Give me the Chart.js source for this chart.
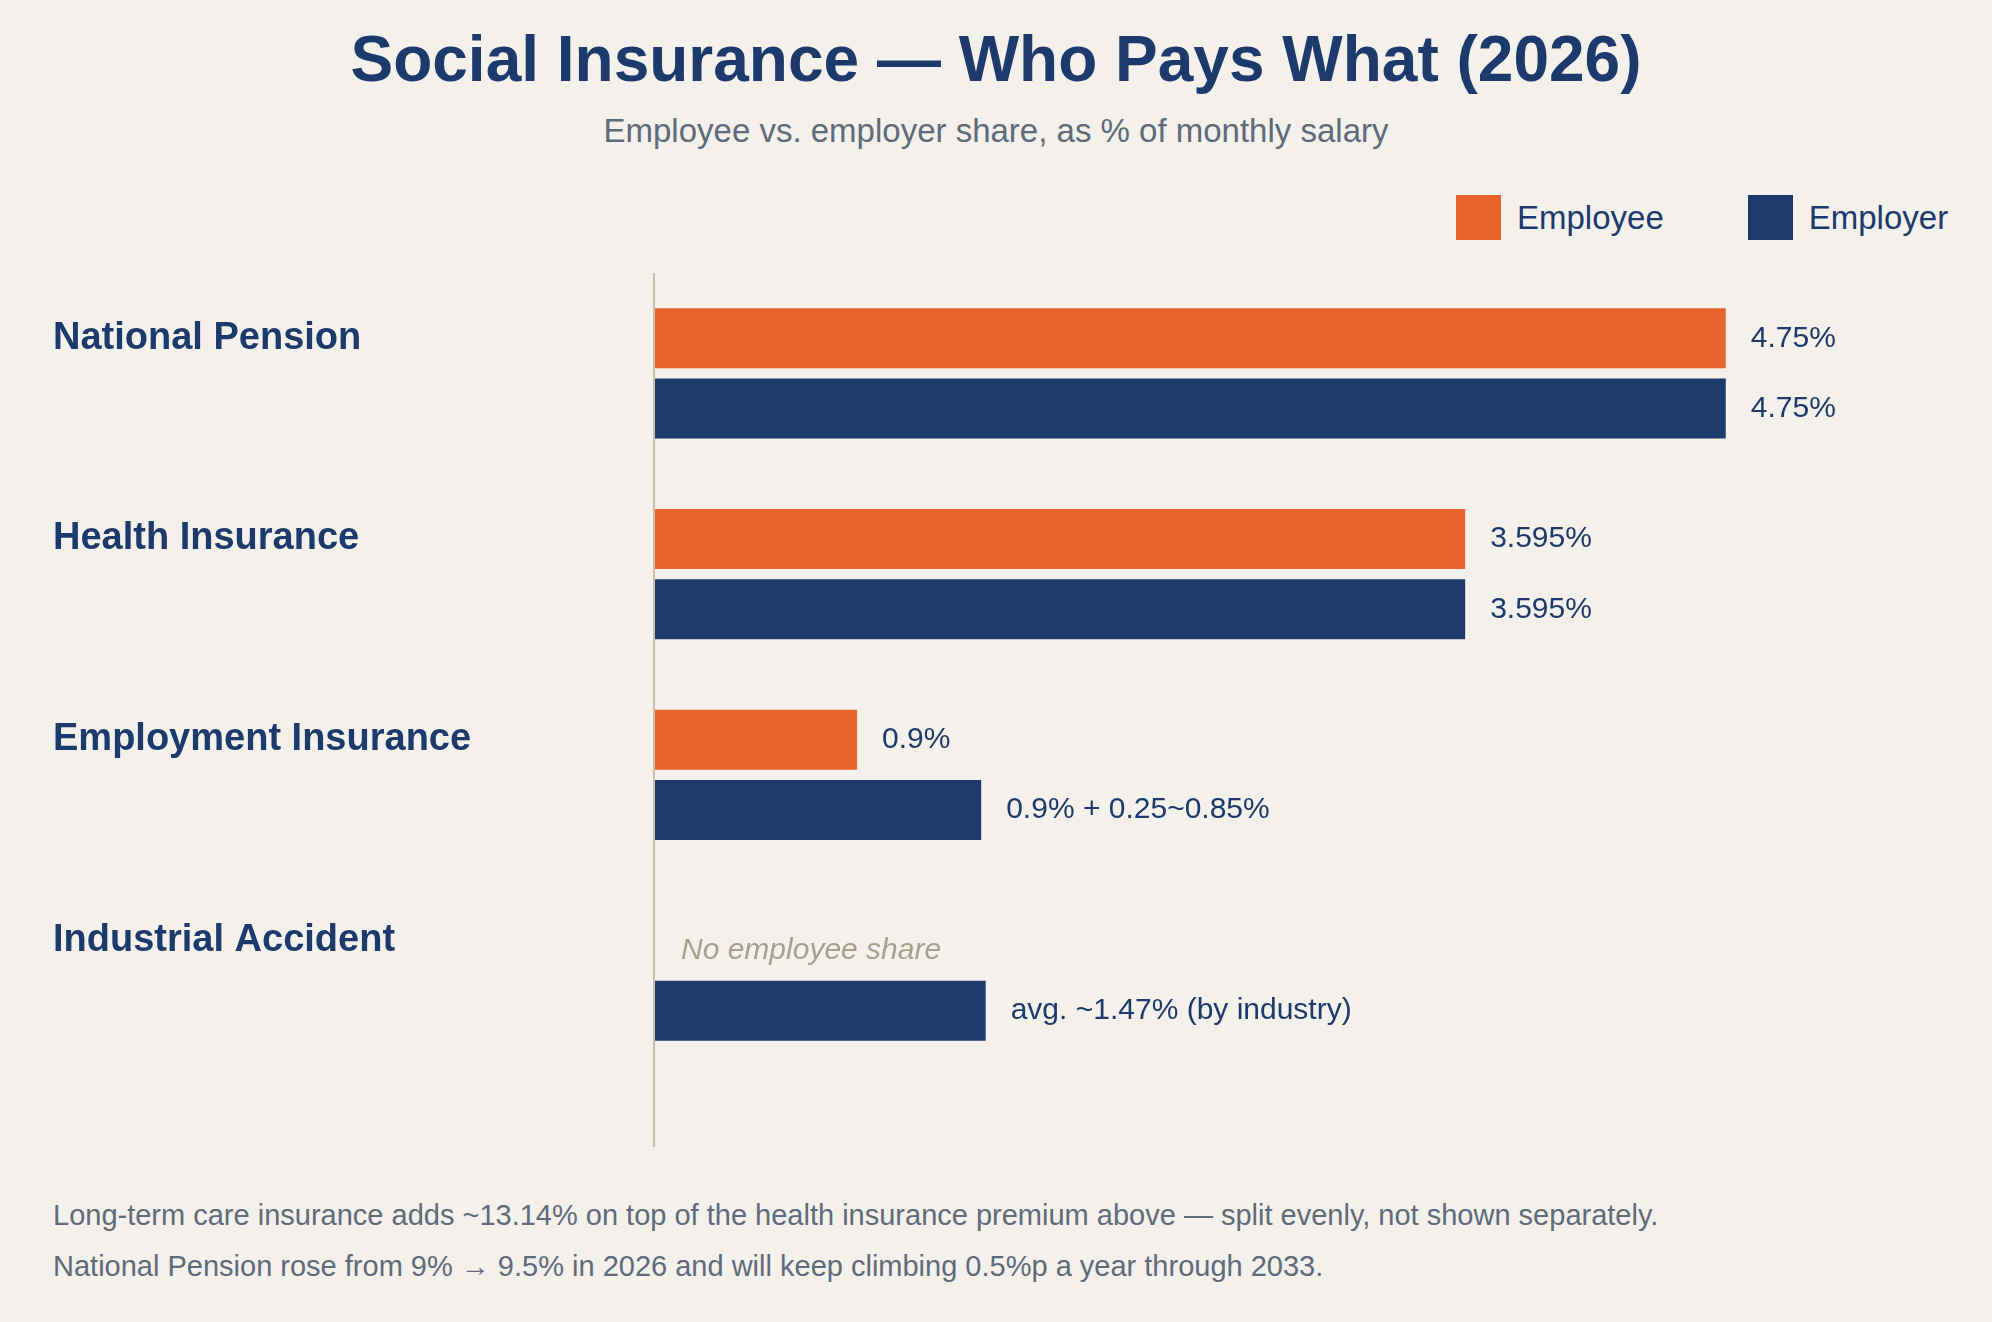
<!DOCTYPE html>
<html lang="en">
<head>
<meta charset="UTF-8">
<title>Social Insurance — Who Pays What (2026)</title>
<script src="https://cdn.jsdelivr.net/npm/chart.js"></script>
<style>
    * { margin: 0; padding: 0; box-sizing: border-box; }
    body {
        width: 1992px; height: 1322px;
        background: #f4f0eb;
        font-family: 'Liberation Sans', Arial, sans-serif;
        position: relative;
        overflow: hidden;
    }
    h1 {
        position: absolute; top: 22px; width: 100%;
        text-align: center; color: #1c3a6b;
        font-size: 64px; font-weight: bold;
    }
    .sub {
        position: absolute; top: 112px; width: 100%;
        text-align: center; color: #5f6b7a; font-size: 33px;
    }
    .legend { position: absolute; top: 195px; left: 1456px; display: flex; align-items: center; font-size: 33px; color: #1c3a6b; }
    .legend span.sw { width: 45px; height: 45px; display: inline-block; margin-right: 16px; }
    .legend .item { display: flex; align-items: center; margin-right: 84px; }
    #wrap { position: absolute; left: 0; top: 250px; width: 1992px; height: 920px; }
    .notes { position: absolute; left: 53px; top: 1190px; color: #5f6b7a; font-size: 29px; line-height: 51px; }
</style>
</head>
<body>
<h1>Social Insurance — Who Pays What (2026)</h1>
<div class="sub">Employee vs. employer share, as % of monthly salary</div>
<div class="legend">
    <div class="item"><span class="sw" style="background:#e8622c"></span>Employee</div>
    <div class="item"><span class="sw" style="background:#1c3a6b"></span>Employer</div>
</div>
<div id="wrap"><canvas id="chart"></canvas></div>
<div class="notes">
    Long-term care insurance adds ~13.14% on top of the health insurance premium above — split evenly, not shown separately.<br>
    National Pension rose from 9% → 9.5% in 2026 and will keep climbing 0.5%p a year through 2033.
</div>

<script>
    // data
    const categories = ['National Pension', 'Health Insurance', 'Employment Insurance', 'Industrial Accident'];
    const employee = [4.75, 3.595, 0.9, null];
    const employer = [4.75, 3.595, 1.45, 1.47];
    const employeeLabels = ['4.75%', '3.595%', '0.9%', 'No employee share'];
    const employerLabels = ['4.75%', '3.595%', '0.9% + 0.25~0.85%', 'avg. ~1.47% (by industry)'];

    const ORANGE = '#e8622c', NAVY = '#1c3a6b';

    // category names, value labels and the baseline
    const annotate = {
        id: 'annotate',
        afterDatasetsDraw(chart) {
            const ctx = chart.ctx, area = chart.chartArea;
            ctx.save();
            ctx.strokeStyle = '#c8bfb0';
            ctx.lineWidth = 2;
            ctx.beginPath();
            ctx.moveTo(area.left, area.top);
            ctx.lineTo(area.left, area.bottom + 71);
            ctx.stroke();

            const m0 = chart.getDatasetMeta(0), m1 = chart.getDatasetMeta(1);
            ctx.textBaseline = 'middle';
            categories.forEach((c, i) => {
                const b0 = m0.data[i], b1 = m1.data[i];
                ctx.font = 'bold 38px "Liberation Sans", Arial, sans-serif';
                ctx.fillStyle = NAVY;
                ctx.textAlign = 'left';
                ctx.fillText(c, 53, b0.y);

                ctx.font = '30px "Liberation Sans", Arial, sans-serif';
                if (employee[i] == null) {
                    ctx.font = 'italic 30px "Liberation Sans", Arial, sans-serif';
                    ctx.fillStyle = '#a89f8e';
                    ctx.fillText(employeeLabels[i], area.left + 27, b0.y + 10);
                } else {
                    ctx.fillText(employeeLabels[i], b0.x + 25, b0.y);
                }
                ctx.font = '30px "Liberation Sans", Arial, sans-serif';
                ctx.fillStyle = NAVY;
                ctx.fillText(employerLabels[i], b1.x + 25, b1.y);
            });
            ctx.restore();
        }
    };

    new Chart(document.getElementById('chart'), {
        type: 'bar',
        data: {
            labels: categories,
            datasets: [
                { label: 'Employee', data: employee, backgroundColor: ORANGE },
                { label: 'Employer', data: employer, backgroundColor: NAVY }
            ]
        },
        options: {
            indexAxis: 'y',
            responsive: true,
            maintainAspectRatio: false,
            animation: false,
            categoryPercentage: 0.7,
            barPercentage: 0.857,
            layout: { padding: { left: 654, right: 97, top: 23, bottom: 94 } },
            scales: {
                x: { display: false, min: 0, max: 5.5 },
                y: { display: false }
            },
            plugins: { legend: { display: false }, tooltip: { enabled: false } }
        },
        plugins: [annotate]
    });
</script>
</body>
</html>
